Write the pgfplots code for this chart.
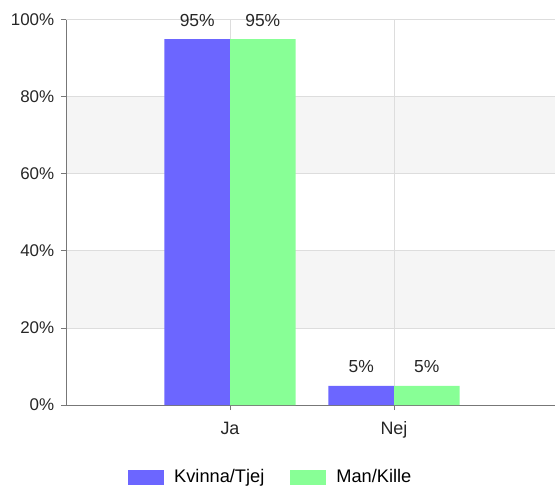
\documentclass[border=0pt]{standalone}
\usepackage{pgfplots}
\pgfplotsset{compat=1.18}
\usepackage{fontspec}
\setmainfont{Liberation Sans}

\definecolor{kv}{HTML}{6C66FF}
\definecolor{mk}{HTML}{88FF96}
\definecolor{band}{HTML}{F5F5F5}
\definecolor{gridc}{HTML}{DDDDDD}
\definecolor{axc}{HTML}{777777}

\pgfplotsset{
  swatch/.style={legend image code/.code={\draw[##1,draw=none] (0bp,-7.5bp) rectangle (36bp,7.5bp);}},
}

\begin{document}
\begin{tikzpicture}
\fontsize{17}{20}\selectfont
\path[use as bounding box] (-66bp,-83bp) rectangle (489bp,405bp);
% alternating bands behind the grid
\fill[band] (0,77bp) rectangle (492bp,154bp);
\fill[band] (0,231bp) rectangle (492bp,308bp);
\begin{axis}[
  at={(0,0)}, anchor=south west,
  scale only axis, width=492bp, height=385bp,
  ybar=0pt, bar width=0.4,
  xmin=-1, xmax=2, ymin=0, ymax=100,
  xtick={0,1}, xticklabels={Ja,Nej},
  ytick={0,20,40,60,80,100},
  yticklabels={0\%,20\%,40\%,60\%,80\%,100\%},
  axis x line*=bottom, axis y line*=left,
  axis line style={axc, line width=1bp, -},
  tick align=outside, major tick length=5bp,
  tick style={axc, line width=1bp},
  xmajorgrids, ymajorgrids,
  grid style={gridc, line width=1bp},
  /pgf/number format/assume math mode=true,
  tick label style={font=\fontsize{17}{20}\selectfont, text=black!85},
  xticklabel style={yshift=-6bp, font=\fontsize{18}{21}\selectfont},
  yticklabel style={xshift=-1bp},
  nodes near coords={\pgfmathprintnumber{\pgfplotspointmeta}\%},
  nodes near coords style={font=\fontsize{17.5}{20}\selectfont, text=black!85, anchor=south, yshift=7bp},
  legend columns=2, legend cell align=left,
  legend style={at={(0.126,-0.188)}, anchor=west, draw=none, fill=none,
    inner sep=0pt, nodes={inner sep=0pt},
    font=\fontsize{18.3}{21}\selectfont,
    /tikz/every odd column/.append style={column sep=10bp},
    /tikz/every even column/.append style={column sep=26bp}},
]
\addplot[fill=kv, draw=none, swatch] coordinates {(0,95) (1,5)};
\addplot[fill=mk, draw=none, swatch] coordinates {(0,95) (1,5)};
\legend{Kvinna/Tjej, Man/Kille}
\end{axis}
\end{tikzpicture}
\end{document}
